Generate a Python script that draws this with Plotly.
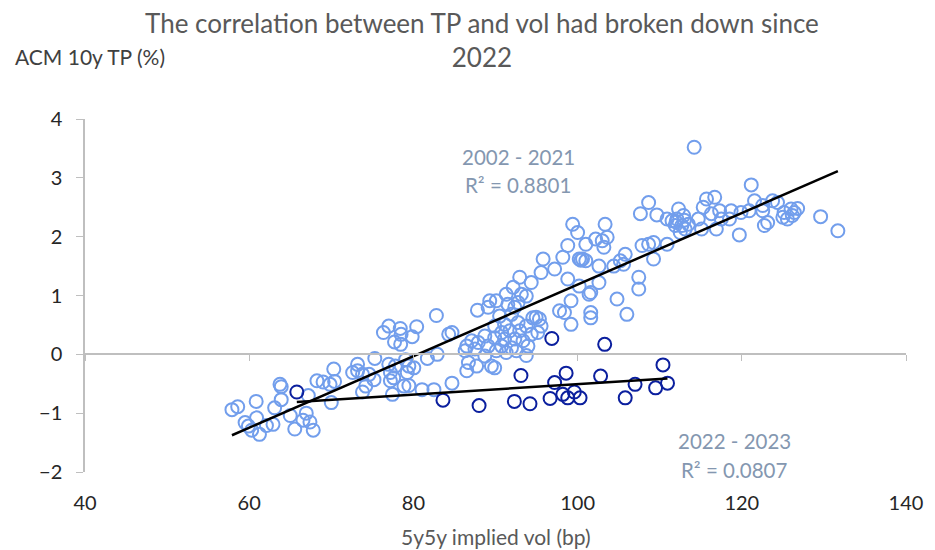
import numpy as np
import plotly.graph_objects as go

# 2002 - 2021 observations (5y5y implied vol in bp, ACM 10y term premium in %)
vol_2002_2021 = [
    57.9, 58.6, 60.85, 59.5, 59.9, 60.3, 61.25, 60.9, 62.1, 62.9, 63.1, 63.9, 63.75, 63.9,
    65.0, 65.55, 66.55, 66.95, 67.2, 67.4, 67.8, 68.25, 69.0, 69.85, 70.3, 70.4, 70.0,
    82.8, 76.35, 77.0, 78.4, 78.5, 80.4, 79.85, 77.7, 78.45, 84.3, 75.3, 73.2, 72.6, 73.2,
    73.8, 74.6, 75.2, 74.2, 73.8, 77.0, 77.8, 77.2, 77.6, 77.2, 79.05, 79.45, 80.05, 79.25,
    78.85, 79.45, 77.45, 81.05, 82.5, 81.7, 82.9, 84.7,
    94.35, 92.95, 92.15, 91.3, 93.15, 93.75, 89.3, 90.1, 89.1, 87.8, 91.5, 92.35, 92.75,
    90.5, 91.95, 94.55, 95.35, 89.9, 91.1, 92.75, 93.75, 90.75, 91.75, 92.95, 94.35, 95.15,
    88.7, 89.9, 91.1, 92.35, 93.35, 87.1, 87.9, 86.5, 89.1, 90.75, 91.95, 93.95, 86.3, 87.5,
    90.1, 91.3, 92.55, 86.7, 87.7, 89.5, 88.7, 93.75, 97.8, 84.7, 86.5, 89.9,
    99.4, 100.0, 103.35, 102.2, 103.0, 103.6, 103.2, 98.8, 101.0, 100.6, 100.2, 101.0, 98.2,
    95.8, 97.2, 95.55, 102.6, 104.4, 105.6, 105.8, 98.8, 100.2, 101.6, 102.6, 107.45, 107.45,
    104.8, 99.2, 98.4, 101.6, 101.6, 106.0, 99.2, 107.65, 108.65, 107.85, 108.65, 109.25,
    94.95, 95.55, 101.4, 105.2, 100.4,
    114.2, 109.65, 110.9, 111.5, 112.3, 112.1, 112.9, 111.9, 112.7, 113.1, 112.5, 113.5,
    114.7, 115.3, 115.7, 116.7, 116.3, 117.3, 117.5, 118.7, 118.5, 119.9, 120.9, 115.1,
    116.9, 119.7, 110.9, 109.25, 112.0, 113.0,
    121.15, 121.55, 122.55, 123.75, 124.35, 122.55, 123.15, 122.75, 125.15, 126.0, 126.8,
    125.0, 125.55, 126.15, 126.4, 129.6, 131.7,
]
tp_2002_2021 = [
    -0.94, -0.89, -0.80, -1.16, -1.22, -1.29, -1.36, -1.08, -1.21, -1.19, -0.91, -0.77, -0.51, -0.55,
    -1.04, -1.27, -1.12, -1.00, -0.70, -1.15, -1.29, -0.45, -0.47, -0.51, -0.25, -0.46, -0.82,
    0.66, 0.37, 0.48, 0.44, 0.34, 0.47, 0.30, 0.21, 0.17, 0.34, -0.07, -0.17, -0.31, -0.28,
    -0.34, -0.34, -0.43, -0.54, -0.64, -0.17, -0.20, -0.31, -0.40, -0.45, -0.09, -0.20, -0.23, -0.31,
    -0.54, -0.53, -0.68, -0.60, -0.60, -0.07, 0.00, -0.49,
    1.22, 1.31, 1.14, 1.02, 1.02, 0.99, 0.91, 0.91, 0.80, 0.75, 0.85, 0.80, 0.88,
    0.65, 0.68, 0.62, 0.60, 0.48, 0.51, 0.54, 0.48, 0.37, 0.40, 0.40, 0.34, 0.37,
    0.31, 0.28, 0.26, 0.26, 0.23, 0.23, 0.20, 0.14, 0.14, 0.14, 0.11, 0.14, 0.06, 0.09,
    0.06, 0.03, 0.06, -0.14, -0.20, -0.20, -0.03, -0.02, 0.74, 0.37, -0.28, -0.23,
    2.21, 2.07, 2.21, 1.96, 1.93, 1.99, 1.82, 1.85, 1.87, 1.62, 1.62, 1.59, 1.65,
    1.62, 1.45, 1.39, 1.50, 1.50, 1.53, 1.70, 1.28, 1.16, 1.05, 1.22, 1.31, 1.11,
    0.94, 0.91, 0.71, 0.71, 0.62, 0.68, 0.51, 2.39, 2.58, 1.85, 1.87, 1.90,
    0.63, 0.48, 1.02, 1.59, 1.60,
    3.52, 2.37, 2.30, 2.27, 2.47, 2.30, 2.36, 2.19, 2.19, 2.13, 2.07, 2.21,
    2.30, 2.50, 2.64, 2.67, 2.39, 2.44, 2.30, 2.44, 2.30, 2.41, 2.44, 2.13,
    2.13, 2.03, 1.87, 1.62, 2.25, 2.28,
    2.88, 2.61, 2.53, 2.61, 2.58, 2.44, 2.24, 2.19, 2.41, 2.47, 2.48,
    2.33, 2.30, 2.36, 2.41, 2.34, 2.10,
]

# 2022 - 2023 observations
vol_2022_2023 = [65.8, 83.6, 88.0, 92.3, 93.1, 94.2, 96.65, 96.86, 97.2, 98.2, 98.6,
                 98.8, 99.6, 100.3, 102.8, 103.3, 105.8, 107.0, 109.5, 110.4, 110.95]
tp_2022_2023 = [-0.64, -0.78, -0.87, -0.80, -0.36, -0.84, -0.75, 0.27, -0.48, -0.68, -0.32,
                -0.74, -0.64, -0.74, -0.37, 0.17, -0.74, -0.51, -0.57, -0.18, -0.49]

labels_2002_2021 = ["2002 - 2021", "R\u00b2 = 0.8801"]
labels_2022_2023 = ["2022 - 2023", "R\u00b2 = 0.0807"]

x_ticks = [40, 60, 80, 100, 120, 140]
y_ticks = [-2, -1, 0, 1, 2, 3, 4]

LIGHT = "#729EEC"
DARK = "#0B1F9E"
AXIS = "#BFBFBF"
FONT = "Lato"

def trend(xs, ys):
    xs = np.asarray(xs, float)
    ys = np.asarray(ys, float)
    slope, intercept = np.polyfit(xs, ys, 1)
    xl = np.array([xs.min(), xs.max()])
    return xl, slope * xl + intercept

fig = go.Figure()

fig.add_trace(go.Scatter(
    x=vol_2002_2021, y=tp_2002_2021, mode="markers", name="2002 - 2021",
    marker=dict(symbol="circle-open", size=13, color=LIGHT, line=dict(width=2, color=LIGHT)),
    hoverinfo="skip"))
fig.add_trace(go.Scatter(
    x=vol_2022_2023, y=tp_2022_2023, mode="markers", name="2022 - 2023",
    marker=dict(symbol="circle-open", size=13, color=DARK, line=dict(width=2, color=DARK)),
    hoverinfo="skip"))

for xs, ys in [(vol_2002_2021, tp_2002_2021), (vol_2022_2023, tp_2022_2023)]:
    tx, ty = trend(xs, ys)
    fig.add_trace(go.Scatter(x=tx, y=ty, mode="lines",
                             line=dict(color="black", width=2.5), hoverinfo="skip"))

# invisible trace to carry the axis drawn through y = 0
fig.add_trace(go.Scatter(x=vol_2022_2023, y=tp_2022_2023, xaxis="x2", mode="markers",
                         marker=dict(opacity=0), hoverinfo="skip"))

fig.update_layout(
    width=927, height=542,
    margin=dict(l=77, r=22, t=111, b=78),
    paper_bgcolor="white", plot_bgcolor="white",
    showlegend=False,
    font=dict(family=FONT, color="#404040"),
    xaxis=dict(range=[40, 140], tickvals=x_ticks, showline=False, showgrid=False,
               zeroline=False, ticks="", ticklabelstandoff=17,
               tickfont=dict(size=20, color="#262626")),
    xaxis2=dict(range=[40, 140], overlaying="x", anchor="free", position=1/3,
                side="bottom", tickvals=x_ticks, showline=True, linecolor=AXIS,
                linewidth=1.5, ticks="outside", ticklen=6, tickcolor=AXIS,
                showticklabels=False, showgrid=False, zeroline=False),
    yaxis=dict(range=[-2, 4], tickvals=y_ticks, showline=True, linecolor=AXIS,
               linewidth=1.5, ticks="outside", ticklen=7, tickcolor=AXIS,
               showgrid=False, zeroline=False, ticklabelstandoff=10,
               tickfont=dict(size=20, color="#262626")),
)

# chart title
fig.add_annotation(x=0.483, y=1.224, xref="paper", yref="paper", xanchor="center",
                   yanchor="middle", borderpad=0,
                   text="The correlation between TP and vol had broken down since<br>2022",
                   showarrow=False, font=dict(family=FONT, size=26, color="#595959"))

ann_font = dict(family=FONT, size=20.5, color="#8497B0")
fig.add_annotation(x=92.8, y=3.35, xref="x", yref="y", text=labels_2002_2021[0],
                   showarrow=False, font=ann_font)
fig.add_annotation(x=92.8, y=2.87, xref="x", yref="y", text=labels_2002_2021[1],
                   showarrow=False, font=ann_font)
fig.add_annotation(x=119.1, y=-1.48, xref="x", yref="y", text=labels_2022_2023[0],
                   showarrow=False, font=ann_font)
fig.add_annotation(x=119.1, y=-1.96, xref="x", yref="y", text=labels_2022_2023[1],
                   showarrow=False, font=ann_font)

fig.add_annotation(x=-0.088, y=1.176, xref="paper", yref="paper", xanchor="left",
                   yanchor="middle", text="ACM 10y TP (%)", showarrow=False,
                   font=dict(family=FONT, size=21, color="#404040"))
fig.add_annotation(x=0.5, y=-0.184, xref="paper", yref="paper", xanchor="center",
                   yanchor="middle", text="5y5y implied vol (bp)", showarrow=False,
                   font=dict(family=FONT, size=21, color="#595959"))

fig.write_html("out.html")
